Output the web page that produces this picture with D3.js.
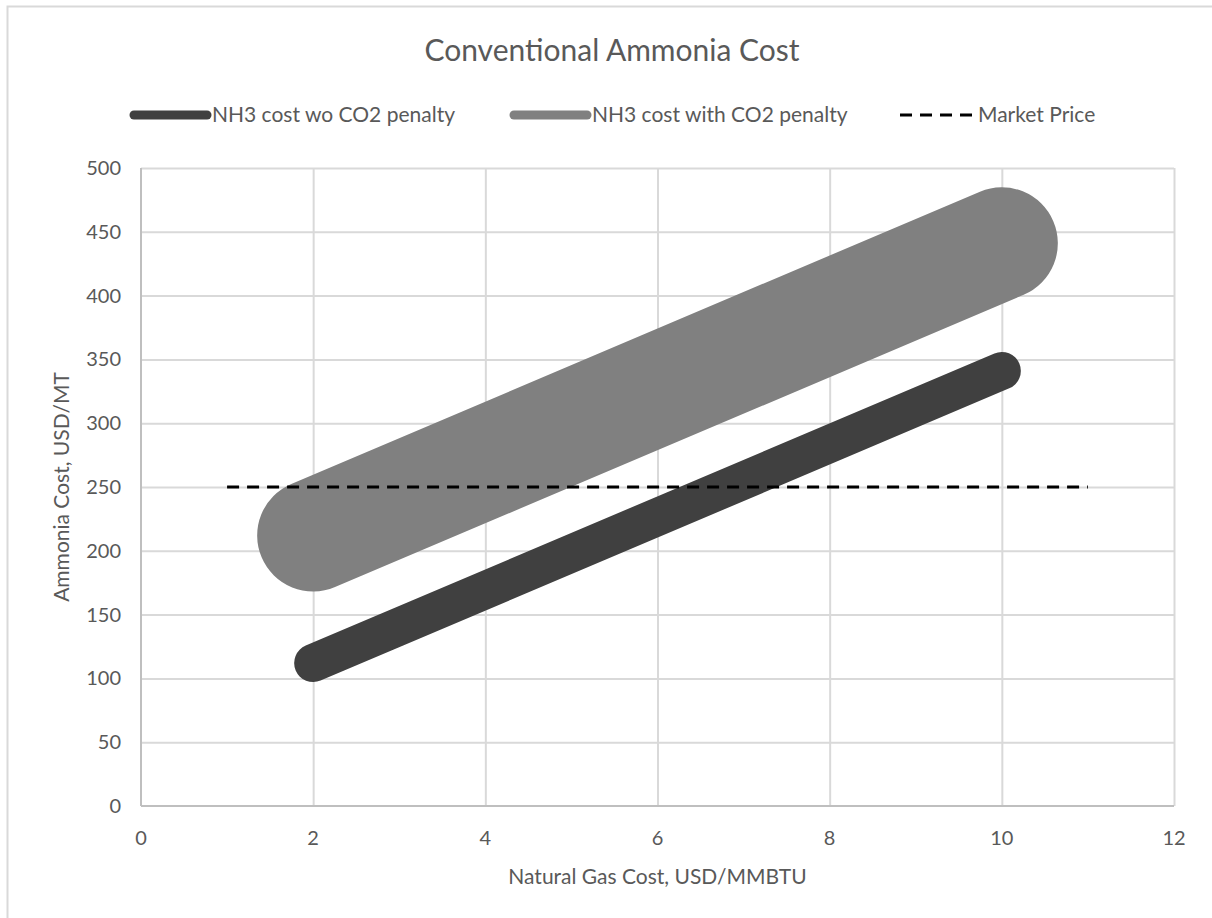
<!DOCTYPE html>
<html>
<head>
<meta charset="utf-8">
<script src="https://cdn.jsdelivr.net/npm/d3@7"></script>
<style>
  body { margin: 0; background: #fff; }
  svg text { font-family: Lato, "Open Sans", sans-serif; fill: #595959; }
</style>
</head>
<body>
<svg id="chart" width="1212" height="918"></svg>
<script>
// chart values
const gasCost = [2, 10];
const costNoPenalty = [112, 341];
const costWithPenalty = [212, 441];
const marketX = [1, 11];
const marketPrice = [250, 250];
const xTicks = [0, 2, 4, 6, 8, 10, 12];
const yTicks = [0, 50, 100, 150, 200, 250, 300, 350, 400, 450, 500];

const series = [
  { name: "NH3 cost wo CO2 penalty", xs: gasCost, ys: costNoPenalty, color: "#404040", width: 38 },
  { name: "NH3 cost with CO2 penalty", xs: gasCost, ys: costWithPenalty, color: "#808080", width: 112 },
];

const svg = d3.select("#chart");
const plot = { left: 141, right: 1174, top: 168, bottom: 806 };

// outer chart border (only top/left visible in frame)
svg.append("rect")
  .attr("x", 7.5).attr("y", 6.5)
  .attr("width", 1300).attr("height", 1000)
  .attr("fill", "none").attr("stroke", "#d9d9d9").attr("stroke-width", 2);

const xScale = d3.scaleLinear().domain([0, 12]).range([plot.left, plot.right]);
const yScale = d3.scaleLinear().domain([0, 500]).range([plot.bottom, plot.top]);

// gridlines
svg.append("g")
  .attr("transform", `translate(0, ${plot.bottom})`)
  .call(d3.axisBottom(xScale).tickValues(xTicks.slice(1)).tickFormat("").tickSize(-(plot.bottom - plot.top)))
  .call(g => g.select(".domain").remove())
  .call(g => g.selectAll("line").attr("stroke", "#d9d9d9").attr("stroke-width", 2));

svg.append("g")
  .attr("transform", `translate(${plot.left}, 0)`)
  .call(d3.axisLeft(yScale).tickValues(yTicks.slice(1)).tickFormat("").tickSize(-(plot.right - plot.left)))
  .call(g => g.select(".domain").remove())
  .call(g => g.selectAll("line").attr("stroke", "#d9d9d9").attr("stroke-width", 2));

// axis lines
svg.append("line")
  .attr("x1", plot.left).attr("x2", plot.right)
  .attr("y1", plot.bottom).attr("y2", plot.bottom)
  .attr("stroke", "#bfbfbf").attr("stroke-width", 2);
svg.append("line")
  .attr("x1", plot.left).attr("x2", plot.left)
  .attr("y1", plot.top).attr("y2", plot.bottom)
  .attr("stroke", "#bfbfbf").attr("stroke-width", 2);

// tick labels
svg.append("g").selectAll("text")
  .data(xTicks)
  .join("text")
  .attr("x", d => xScale(d))
  .attr("y", plot.bottom + 39)
  .attr("text-anchor", "middle")
  .attr("font-size", 20)
  .text(d => d);

svg.append("g").selectAll("text")
  .data(yTicks)
  .join("text")
  .attr("x", 121)
  .attr("y", d => yScale(d) + 7)
  .attr("text-anchor", "end")
  .attr("font-size", 20)
  .text(d => d);

// axis titles
svg.append("text")
  .attr("x", (plot.left + plot.right) / 2)
  .attr("y", 884)
  .attr("text-anchor", "middle")
  .attr("font-size", 21)
  .text("Natural Gas Cost, USD/MMBTU");

svg.append("text")
  .attr("transform", `translate(69, ${(plot.top + plot.bottom) / 2}) rotate(-90)`)
  .attr("text-anchor", "middle")
  .attr("font-size", 21)
  .text("Ammonia Cost, USD/MT");

// title
svg.append("text")
  .attr("x", 612)
  .attr("y", 61)
  .attr("text-anchor", "middle")
  .attr("font-size", 30)
  .text("Conventional Ammonia Cost");

// series lines
const line = d3.line().x(d => xScale(d[0])).y(d => yScale(d[1]));

series.forEach(s => {
  svg.append("path")
    .datum(d3.zip(s.xs, s.ys))
    .attr("d", line)
    .attr("fill", "none")
    .attr("stroke", s.color)
    .attr("stroke-width", s.width)
    .attr("stroke-linecap", "round");
});

svg.append("path")
  .datum(d3.zip(marketX, marketPrice))
  .attr("d", line)
  .attr("fill", "none")
  .attr("stroke", "#000")
  .attr("stroke-width", 3)
  .attr("stroke-dasharray", "12,8");

// legend
const legend = [
  { name: series[0].name, color: series[0].color, x1: 134, x2: 207, tx: 212, dash: null },
  { name: series[1].name, color: series[1].color, x1: 514, x2: 587, tx: 592, dash: null },
  { name: "Market Price", color: "#000", x1: 900, x2: 972, tx: 978, dash: "12,8" },
];
const lg = svg.append("g").selectAll("g").data(legend).join("g");
lg.append("line")
  .attr("x1", d => d.x1).attr("x2", d => d.x2)
  .attr("y1", 115).attr("y2", 115)
  .attr("stroke", d => d.color)
  .attr("stroke-width", d => d.dash ? 3 : 9)
  .attr("stroke-linecap", d => d.dash ? "butt" : "round")
  .attr("stroke-dasharray", d => d.dash);
lg.append("text")
  .attr("x", d => d.tx)
  .attr("y", 122)
  .attr("font-size", 21)
  .text(d => d.name);
</script>
</body>
</html>
